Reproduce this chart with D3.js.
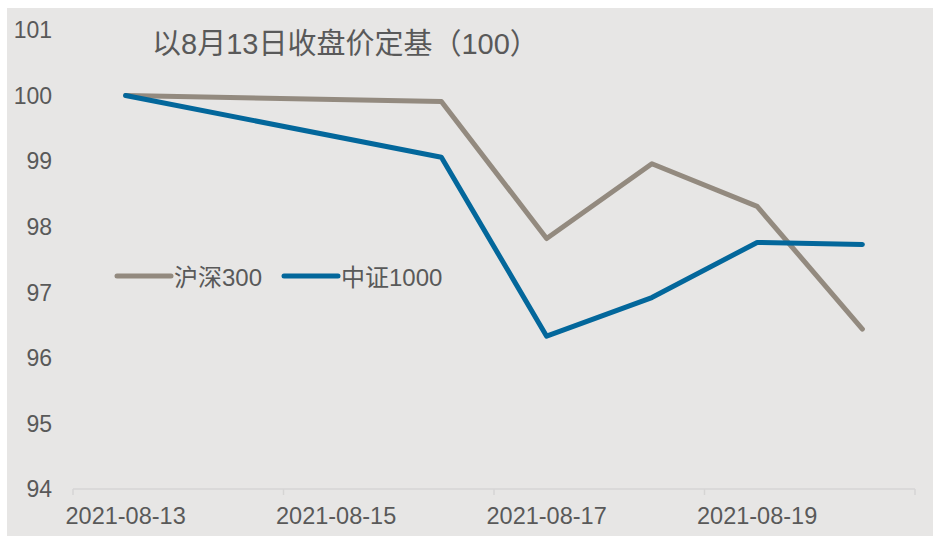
<!DOCTYPE html>
<html>
<head>
<meta charset="utf-8">
<script src="https://cdn.jsdelivr.net/npm/d3@7"></script>
<style>
  html, body { margin: 0; padding: 0; background: #ffffff; }
</style>
</head>
<body>
<div id="chart"></div>
<script>
// Dimensions
const width = 933;
const height = 536;

// Data
const dates = ["2021-08-13", "2021-08-16", "2021-08-17", "2021-08-18", "2021-08-19", "2021-08-20"];
const hs300 = [100, 99.91, 97.82, 98.96, 98.31, 96.44];
const zz1000 = [100, 99.06, 96.33, 96.92, 97.76, 97.73];
const seriesNames = ["沪深300", "中证1000"];
const yTicks = [94, 95, 96, 97, 98, 99, 100, 101];
const tickLabels = ["2021-08-13", "2021-08-15", "2021-08-17", "2021-08-19"];
const title = "以8月13日收盘价定基（100）";

// Colors
const colors = ["#938a7f", "#03679b"];
const textColor = "#595959";

const svg = d3.select("#chart")
  .append("svg")
  .attr("width", width)
  .attr("height", height)
  .style("font-family", "Arial, 'Liberation Sans', 'Noto Sans CJK SC', sans-serif");

// Plot background
svg.append("rect")
  .attr("x", 7)
  .attr("y", 8)
  .attr("width", width - 7)
  .attr("height", height - 8)
  .attr("fill", "#e7e6e5");

// Date axis: one day per slot, from 08-13 to 08-21
const parse = d3.utcParse("%Y-%m-%d");
const x = d3.scaleUtc()
  .domain([parse("2021-08-13"), parse("2021-08-21")])
  .range([73, 915]);
const dayCenter = d => new Date(parse(d).getTime() + 12 * 3600 * 1000);

const y = d3.scaleLinear()
  .domain([94, 101])
  .range([489, 30]);

// X axis line + ticks at slot boundaries every two days
const tickDates = d3.utcDay.range(parse("2021-08-13"), parse("2021-08-22"), 2);
svg.append("line")
  .attr("x1", x.range()[0])
  .attr("x2", x.range()[1])
  .attr("y1", y(94))
  .attr("y2", y(94))
  .attr("stroke", "#d6d5d4")
  .attr("stroke-width", 1.5);

svg.selectAll(".xtick")
  .data(tickDates)
  .join("line")
  .attr("class", "xtick")
  .attr("x1", d => x(d))
  .attr("x2", d => x(d))
  .attr("y1", y(94))
  .attr("y2", y(94) + 6)
  .attr("stroke", "#d6d5d4")
  .attr("stroke-width", 1.5);

// X tick labels centered on their day
svg.selectAll(".xlabel")
  .data(tickLabels)
  .join("text")
  .attr("class", "xlabel")
  .attr("x", d => x(dayCenter(d)))
  .attr("y", 524)
  .attr("text-anchor", "middle")
  .attr("fill", textColor)
  .style("font-size", "23.5px")
  .text(d => d);

// Y labels
svg.selectAll(".ylabel")
  .data(yTicks)
  .join("text")
  .attr("class", "ylabel")
  .attr("x", 52)
  .attr("y", d => y(d) + 8.3)
  .attr("text-anchor", "end")
  .attr("fill", textColor)
  .style("font-size", "23px")
  .text(d => d);

// Lines
const line = d3.line()
  .x((d, i) => x(dayCenter(dates[i])))
  .y(d => y(d));

[hs300, zz1000].forEach((s, i) => {
  svg.append("path")
    .datum(s)
    .attr("d", line)
    .attr("fill", "none")
    .attr("stroke", colors[i])
    .attr("stroke-width", 5)
    .attr("stroke-linejoin", "round")
    .attr("stroke-linecap", "round");
});

// Title
svg.append("text")
  .attr("x", 152)
  .attr("y", 54)
  .attr("fill", textColor)
  .style("font-size", "29px")
  .text(title);

// Legend
const legendX = [117, 284];
const legend = svg.selectAll(".legend")
  .data(seriesNames)
  .join("g")
  .attr("class", "legend")
  .attr("transform", (d, i) => `translate(${legendX[i]},276)`);

legend.append("line")
  .attr("x1", 0)
  .attr("x2", 54)
  .attr("stroke", (d, i) => colors[i])
  .attr("stroke-width", 5)
  .attr("stroke-linecap", "round");

legend.append("text")
  .attr("x", 57)
  .attr("y", 10)
  .attr("fill", textColor)
  .style("font-size", "24px")
  .text(d => d);
</script>
</body>
</html>
